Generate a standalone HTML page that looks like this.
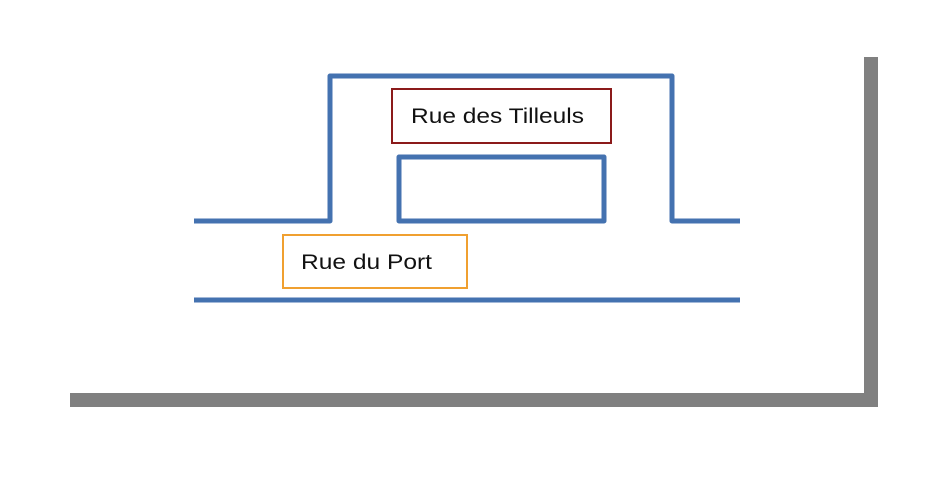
<!DOCTYPE html>
<html><head><style>body{margin:0;width:950px;height:472px;background:#fff;overflow:hidden}</style></head><body>
<svg width="950" height="472" xmlns="http://www.w3.org/2000/svg">
<rect x="864" y="57" width="14" height="350" fill="#808080"/>
<rect x="70" y="393" width="808" height="14" fill="#808080"/>
<g fill="none" stroke="#4472b0" stroke-width="5" stroke-linejoin="round">
<polyline points="194,221 330,221 330,76 672,76 672,221 740,221"/>
<line x1="194" y1="300" x2="740" y2="300"/>
<rect x="399" y="157" width="205" height="64"/>
</g>
<rect x="392" y="89" width="219" height="54" fill="#fff" stroke="#8b1a1a" stroke-width="2"/>
<rect x="283" y="235" width="184" height="53" fill="#fff" stroke="#f0a030" stroke-width="2"/>
<g font-family="Liberation Sans, sans-serif" font-size="21" fill="#111">
<text x="411" y="123" textLength="173" lengthAdjust="spacingAndGlyphs">Rue des Tilleuls</text>
<text x="301" y="269" textLength="131" lengthAdjust="spacingAndGlyphs">Rue du Port</text>
</g>
</svg>
</body></html>
